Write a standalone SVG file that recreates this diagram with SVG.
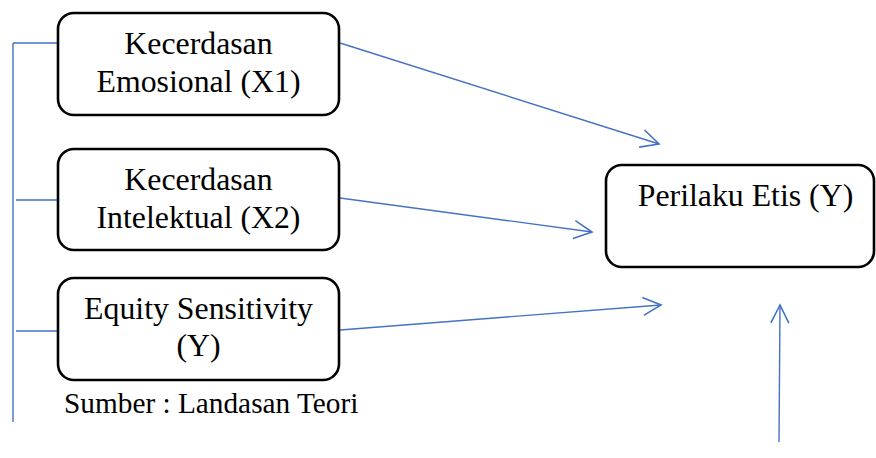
<svg xmlns="http://www.w3.org/2000/svg" width="876" height="458" viewBox="0 0 876 458">
<style>
.box{fill:#fff;stroke:#000;stroke-width:2.6}
.t{font-family:'Liberation Serif','Times New Roman',serif;font-size:31.8px;fill:#000;text-anchor:middle}
.src{font-family:'Liberation Serif','Times New Roman',serif;font-size:29.3px;fill:#000}
.c{stroke:#4472C4;stroke-width:1.4;fill:none}
</style>
<defs>
<marker id="ah" markerUnits="userSpaceOnUse" markerWidth="24" markerHeight="24" refX="19" refY="10" orient="auto" viewBox="0 0 24 20">
<path d="M1,1 L19,10 L1,19" fill="none" stroke="#4472C4" stroke-width="1.6"/>
</marker>
</defs>
<rect width="876" height="458" fill="#fff"/>
<g id="connectors">
<path class="c" d="M13,43 V422 M13,43 H58 M16,200 H58 M16,331 H58"/>
<line class="c" x1="340" y1="43" x2="659" y2="144" marker-end="url(#ah)"/>
<line class="c" x1="340" y1="198" x2="592" y2="232" marker-end="url(#ah)"/>
<line class="c" x1="340" y1="330" x2="661" y2="305" marker-end="url(#ah)"/>
<line class="c" x1="779" y1="442" x2="780" y2="305" marker-end="url(#ah)"/>
</g>
<g id="node-x1">
<rect class="box" x="58" y="13" width="281" height="102" rx="16"/>
<text class="t" x="198.5" y="54">Kecerdasan</text>
<text class="t" x="198.5" y="92">Emosional (X1)</text>
</g>
<g id="node-x2">
<rect class="box" x="58" y="149" width="281" height="101" rx="16"/>
<text class="t" x="198.5" y="190">Kecerdasan</text>
<text class="t" x="198.5" y="228">Intelektual (X2)</text>
</g>
<g id="node-x3">
<rect class="box" x="58" y="278" width="281" height="102" rx="16"/>
<text class="t" x="198.5" y="319">Equity Sensitivity</text>
<text class="t" x="198.5" y="356">(Y)</text>
</g>
<g id="node-y">
<rect class="box" x="606" y="165" width="268" height="102" rx="16"/>
<text class="t" x="745.5" y="206">Perilaku Etis (Y)</text>
</g>
<g id="source">
<text class="src" x="64" y="413">Sumber : Landasan Teori</text>
</g>
</svg>
